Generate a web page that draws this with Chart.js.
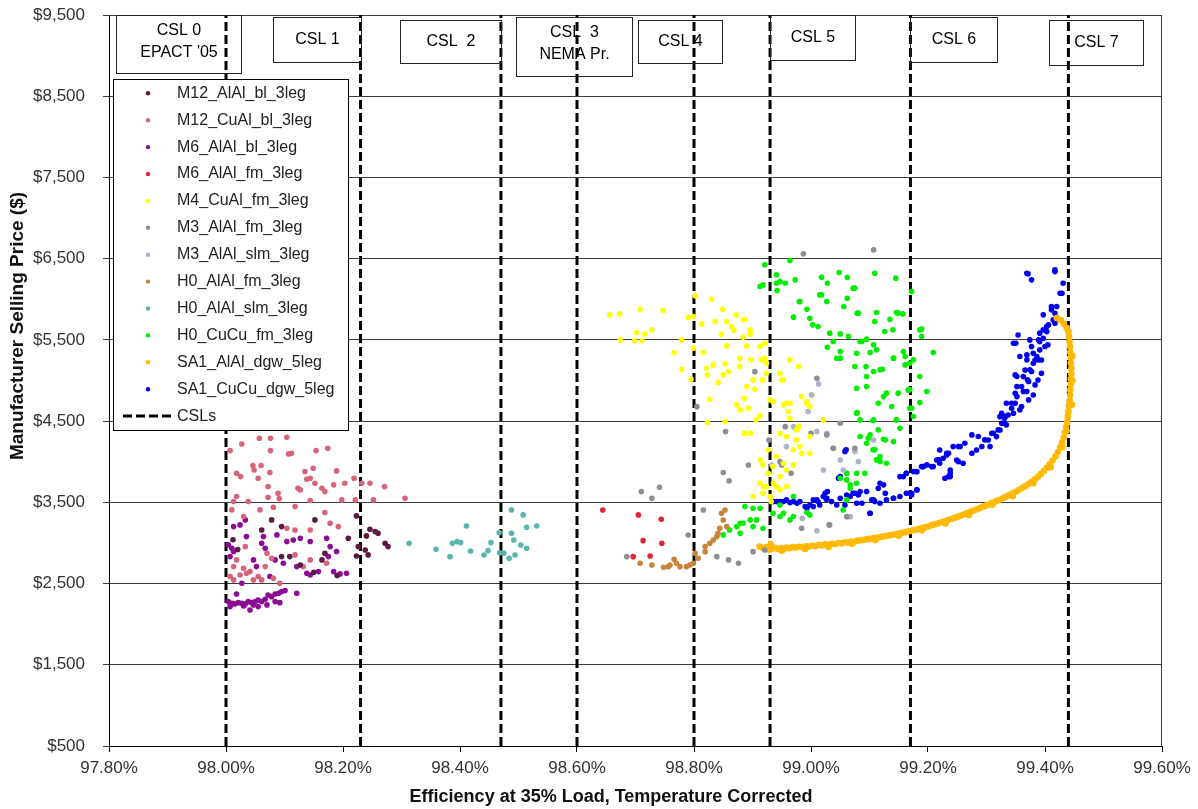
<!DOCTYPE html>
<html>
<head>
<meta charset="utf-8">
<title>Manufacturer Selling Price vs Efficiency</title>
<script src="https://cdn.jsdelivr.net/npm/chart.js@4.4.0/dist/chart.umd.min.js"></script>
<style>
  html, body { margin: 0; padding: 0; background: #fff; }
</style>
</head>
<body>
<canvas id="chart" width="1198" height="809"></canvas>
<script>
// [efficiency %, MSP $]
const m12AlAlBl = [
  [98.246,3169],[98.255,3140],[98.260,3120],[98.272,2996],[98.277,2955],[98.240,3087],[98.226,2955],
  [98.223,2840],[98.243,2853],[98.169,2873],[98.095,2832],[98.127,2729],[98.164,2791],[98.109,2832],
  [98.209,3058],[98.078,3284],[98.095,3201],[98.152,3284],[98.223,3333],[98.061,3160],[98.238,2914],
  [98.012,3040],[98.020,2920],[98.150,2640],[98.190,2600]
];
const m12CuAlBl = [
  [98.007,4137],[98.027,4219],[98.057,4289],[98.076,4289],[98.104,4302],[98.076,4137],[98.107,4096],
  [98.112,4105],[98.154,4137],[98.174,4166],[98.046,3953],[98.060,3953],[98.018,3858],[98.025,3817],
  [98.048,3899],[98.075,3866],[98.055,3797],[98.135,3879],[98.149,3920],[98.189,3887],[98.138,3784],
  [98.144,3797],[98.152,3735],[98.072,3694],[98.123,3673],[98.127,3653],[98.164,3673],[98.169,3632],
  [98.184,3715],[98.203,3735],[98.219,3797],[98.232,3735],[98.246,3735],[98.271,3694],[98.089,3612],
  [98.072,3563],[98.091,3546],[98.018,3571],[98.013,3509],[98.038,3509],[98.144,3522],[98.198,3530],
  [98.221,3530],[98.252,3530],[98.306,3550],[98.010,3407],[98.058,3407],[98.081,3440],[98.118,3448],
  [98.169,3374],[98.192,3201],[98.178,3242],[98.144,3160],[98.104,3181],
  [98.030,3325],[98.033,2955],[98.018,2791],[98.013,2709],[98.030,2688],[98.024,2606],[98.035,2627],
  [98.041,2647],[98.007,2586],[98.013,2545],[98.047,2545],[98.055,2586],[98.067,2709],[98.070,2873],
  [98.078,2812],[98.118,2853],[98.132,2709],[98.144,2791],[98.172,2750],[98.081,2565],[98.092,2504],
  [98.061,2545],[98.118,3160]
];
const m6AlAlBl = [
  [98.004,2278],[98.010,2257],[98.015,2249],[98.021,2265],[98.027,2257],[98.033,2249],[98.038,2278],
  [98.044,2265],[98.050,2278],[98.055,2298],[98.061,2278],[98.067,2306],[98.072,2360],[98.078,2339],
  [98.084,2372],[98.090,2380],[98.095,2401],[98.101,2413],[98.121,2380],[98.055,2216],[98.041,2175],
  [98.018,2372],[98.092,2265],[98.070,2237],[98.030,2224],[98.007,2216],[98.084,2278],[98.047,2237],
  [98.033,3284],[98.013,3201],[98.024,3222],[98.004,2976],[98.010,2935],[98.013,2894],[98.007,2832],
  [98.035,3078],[98.064,3078],[98.061,2996],[98.067,2935],[98.087,3099],[98.104,3017],[98.115,3037],
  [98.127,3058],[98.144,3017],[98.172,3058],[98.178,2955],[98.175,2832],[98.189,2894],[98.027,2504],
  [98.075,2586],[98.138,2627],[98.144,2606],[98.158,2647],[98.184,2647],[98.195,2619],[98.206,2627],
  [98.098,2750],[98.084,2791],[98.047,2791],[98.052,2709],[98.121,2709]
];
const m6AlAlFm = [
  [98.644,3406],[98.705,3345],[98.744,3292],[98.713,3028],[98.745,2996],[98.696,2831],[98.725,2840]
];
const m4CuAlFm = [
  [98.673,5820],[98.708,5878],[98.747,5861],[98.674,5500],[98.702,5590],[98.716,5574],[98.728,5623],
  [98.699,5488],[98.711,5488],[98.779,5500],[98.790,5779],[98.802,6042],[98.830,6001],[98.799,5787],
  [98.813,5697],[98.836,5726],[98.849,5878],[98.856,5726],[98.872,5808],[98.887,5755],[98.864,5664],
  [98.868,5615],[98.847,5570],[98.896,5570],[98.884,5533],[98.921,5459],[98.766,5344],[98.799,5398],
  [98.816,5344],[98.856,5426],[98.890,5426],[98.779,5139],[98.821,5151],[98.833,5192],[98.853,5205],
  [98.878,5274],[98.897,5254],[98.915,5254],[98.921,5274],[98.823,5069],[98.850,5069],[98.859,5110],
  [98.878,5172],[98.901,5008],[98.904,4893],[98.841,4975],[98.890,4926],[98.917,5008],[98.924,5090],
  [98.795,5016],[98.827,4770],[98.886,4778],[98.873,4700],[98.879,4638],[98.893,4659],[98.913,4565],
  [98.930,4761],[98.935,4741],[98.823,4482],[98.853,4494],[98.906,4515],[98.886,4351],[98.897,4351],
  [98.913,4023],[98.918,3961],[98.927,4146],[98.941,4064],[98.927,3858],
  [98.947,5090],[98.964,5254],[98.950,5008],[98.979,5172],[98.953,4700],[98.964,4720],[98.961,4618],
  [98.993,4741],[98.998,4680],[98.979,4433],[98.947,4351],[98.958,4310],[98.975,4269],[98.998,4310],
  [99.021,4515],[98.970,4146],[98.984,4105],[98.998,4105],[98.953,3981],[98.970,3961],[98.935,3940],
  [98.947,3817],[98.941,3694],[98.958,3694],[98.924,3694],[98.913,3735],[98.918,3612],[98.901,3571],
  [98.930,3571],[98.887,4351],[98.884,5747],[98.896,5624],[98.913,5418],[98.924,5213],[98.953,5008],
  [98.958,4720],[98.984,4802],[98.993,4720],[98.964,4536],[98.975,4392],[98.981,4187],[98.958,3899],
  [98.936,3735],[98.947,3653],[98.919,3694],[98.656,5808],[98.932,3510]
];
const m3AlAlFm = [
  [98.710,3632],[98.728,3550],[98.741,3686],[98.805,4678],[98.854,4371],[98.850,3866],[98.860,3764],
  [98.893,3960],[98.904,5109],[98.928,4268],[98.956,4432],[98.950,3960],[99.000,4351],[99.010,5028],
  [99.027,4330],[99.038,4166],[99.050,4474],[99.061,3324],[98.984,3181],[98.966,3858],[99.031,3222],
  [99.075,4166],[98.816,3406],[98.790,3098],[98.839,2831],[98.859,2791],[98.876,2750],[98.901,2893],
  [98.921,2914],[98.685,2831],[98.947,4001],[98.987,6559],[99.107,6608]
];
const m3AlAlSlm = [
  [99.013,4958],[99.001,4823],[98.995,4617],[98.970,4432],[99.010,4371],[99.027,4351],[99.038,4166],
  [99.050,4022],[99.021,3899],[99.075,4125],[99.107,4268],[99.081,4001],[99.032,3222],[99.067,3324],
  [99.055,3899],[98.958,4186],[98.933,3960],[98.985,3300],[99.010,3150]
];
const h0AlAlFm = [
  [98.708,2750],[98.728,2729],[98.756,2708],[98.770,2750],[98.776,2708],[98.793,2729],[98.802,2873],
  [98.819,2955],[98.827,2996],[98.839,3078],[98.844,3181],[98.850,3283],[98.847,3365],[98.853,3406],
  [98.856,3201],[98.807,2811],[98.799,2750],[98.759,2729],[98.748,2700],[98.787,2708],[98.819,2893],
  [98.833,3037],[98.841,3119],[98.766,2798]
];
const h0AlAlSlm = [
  [98.313,2996],[98.359,2922],[98.383,2831],[98.387,2996],[98.395,3016],[98.401,3004],[98.411,3209],
  [98.418,2901],[98.441,2852],[98.448,2905],[98.453,3004],[98.467,3127],[98.468,2880],[98.475,2873],
  [98.484,2811],[98.488,3119],[98.492,3037],[98.488,3406],[98.508,3345],[98.514,3193],[98.531,3209],
  [98.504,2975],[98.514,2935],[98.494,2852]
];
const h0CuCuFm = [
  [98.921,6424],[98.964,6477],[98.913,6157],[98.941,6301],[98.947,6219],[98.956,6198],[98.973,6239],
  [98.942,6108],[99.018,6272],[99.028,6198],[99.048,6330],[99.062,6272],[99.075,6137],[99.109,6321],
  [99.145,6260],[98.980,5972],[98.993,5878],[99.018,6054],[99.027,5972],[98.970,5780],[98.998,5767],
  [99.003,5685],[99.012,5664],[99.062,6013],[99.056,5911],[99.079,5829],[99.112,5837],[99.135,5755],
  [99.146,5837],[99.157,5820],[99.172,6096],[99.109,5726],[99.126,5603],[99.140,5624],[99.032,5583],
  [99.050,5574],[99.064,5541],[99.038,5480],[99.087,5480],[99.095,5509],[99.028,5410],[99.050,5357],
  [99.078,5336],[99.101,5344],[99.112,5377],[99.141,5275],[99.161,5295],[99.175,5254],[99.189,5632],
  [99.189,5541],[99.209,5344],[99.075,5172],[99.094,5172],[99.107,5110],[99.122,5139],[99.161,5192],
  [99.169,5213],[99.050,5275],[99.078,4905],[99.095,4926],[99.129,4844],[99.149,4844],[99.169,4885],
  [99.186,4729],[99.186,5049],[99.115,4720],[99.079,4605],[99.084,4515],[99.106,4507],[99.146,4515],
  [99.169,4659],[99.175,4556],[99.084,4310],[99.098,4289],[99.124,4277],[99.141,4248],[99.152,4412],
  [99.106,4146],[99.112,4023],[99.118,4064],[99.129,3982],[99.095,4228],[99.061,3858],[99.050,3797],
  [99.078,3858],[99.092,3858],[99.067,3715],[99.078,3735],[98.887,3448],[98.901,3427],[98.947,3468],
  [98.953,3366],[98.970,3325],[98.993,3374],[98.879,3243],[98.907,3284],
  [98.918,6177],[98.941,6198],[98.981,5972],[99.015,6054],[99.072,6136],[99.081,5829],[99.149,5829],
  [99.186,5623],[99.141,5274],[99.158,5356],[99.084,5480],[99.107,5439],[99.044,5274],[99.095,5049],
  [99.118,5131],[99.166,4884],[99.198,4864],[99.124,4802],[99.138,4679],[99.172,4659],[99.146,4515],
  [99.107,4515],[99.078,4597],[99.101,4330],[99.115,4392],[99.127,4269],[99.109,4146],[99.118,4002],
  [99.061,3858],[99.061,3776],[98.970,3571],[98.935,3366],[98.913,3427],[98.896,3284],[98.884,3243],
  [98.873,3201],[98.861,3160],[98.850,3099],[98.901,3201],[98.947,3325],[98.964,3284],[98.998,3345],
  [98.879,3119],[98.918,3181],[99.061,3530],[99.055,3407],[99.067,3673]
];
const sa1AlAlDgw = [
  [98.912,2955],[98.918,2938],[98.924,2950],[98.928,2915],[98.931,2985],[98.933,2928],[98.938,2940],
  [98.943,2925],[98.949,2936],[98.954,2930],[98.958,2942],[98.963,2935],[98.969,2948],[98.974,2940],
  [98.979,2953],[98.985,2948],[98.991,2960],[98.996,2955],[99.002,2966],[99.008,2962],[99.013,2974],
  [99.019,2970],[99.024,2983],[99.030,2978],[99.036,2990],[99.041,2986],[99.047,2999],[99.052,2995],
  [99.058,3009],[99.063,3005],[99.069,3018],[99.074,3014],[99.080,3028],[99.086,3034],[99.091,3040],
  [99.097,3047],[99.102,3052],[99.108,3060],[99.113,3066],[99.119,3074],[99.124,3080],[99.130,3089],
  [99.135,3095],[99.141,3104],[99.146,3110],[99.152,3119],[99.157,3127],[99.163,3136],[99.168,3144],
  [99.174,3155],[99.179,3163],[99.185,3175],[99.190,3184],[99.196,3197],[99.201,3206],[99.207,3219],
  [99.212,3230],[99.218,3243],[99.223,3254],[99.229,3268],[99.234,3281],[99.240,3295],[99.245,3308],
  [99.251,3324],[99.256,3338],[99.262,3354],[99.267,3368],[99.273,3385],[99.278,3399],[99.284,3416],
  [99.289,3432],[99.295,3449],[99.300,3463],[99.306,3481],[99.311,3497],[99.317,3515],[99.322,3532],
  [99.328,3551],[99.333,3568],[99.339,3589],[99.344,3608],[99.350,3630],[99.355,3651],[99.361,3676],
  [99.366,3698],[99.372,3726],[99.377,3752],[99.383,3784],[99.388,3815],[99.393,3850],[99.398,3886],
  [99.403,3926],[99.408,3968],[99.413,4015],[99.418,4066],[99.422,4120],[99.426,4178],[99.429,4236],
  [99.432,4298],[99.434,4362],[99.436,4426],[99.438,4490],[99.439,4556],[99.440,4622],[99.441,4688],
  [99.442,4754],[99.443,4820],[99.443,4886],[99.444,4952],[99.444,5018],[99.445,5084],[99.445,5150],
  [99.444,5216],[99.444,5282],[99.443,5348],[99.443,5414],[99.442,5480],[99.441,5546],[99.440,5602],
  [99.437,5650],[99.432,5700],[99.427,5745],[99.420,5770],
  [98.950,2905],[98.990,2925],[99.030,2950],[99.070,2990],[99.110,3035],[99.150,3090],[99.190,3155],
  [99.230,3240],[99.270,3345],[99.310,3470],[99.345,3575],[99.380,3735],[99.410,3930],[99.430,4180],
  [99.437,4380],[99.446,4700],[99.447,5000],[99.447,5300]
];
const sa1CuCuDgw = [
  [98.933,3509],[98.941,3509],[98.953,3509],[98.964,3497],[98.976,3489],[98.990,3448],[98.998,3468],
  [99.004,3530],[99.012,3509],[99.021,3571],[99.028,3633],[99.026,3538],[99.035,3509],[99.044,3468],
  [99.050,3550],[99.058,3468],[99.067,3571],[99.075,3612],[99.081,3591],[99.087,3489],[99.095,3633],
  [99.101,3366],[99.104,3530],[99.109,3509],[99.115,3674],[99.124,3715],[99.118,3489],[99.129,3530],
  [99.141,3550],[99.152,3571],[99.163,3612],[99.172,3591],[99.060,4146],[99.050,3817],[99.152,3817],
  [99.163,3858],[99.175,3879],[99.189,3940],[99.198,3961],[99.206,3940],[99.218,4023],[99.226,4043],
  [99.232,4084],[99.220,3982],[99.238,3899],[99.235,3817],[99.252,4187],[99.263,4228],[99.275,4105],
  [99.286,4310],[99.297,4269],[99.306,4187],[99.312,4351],[99.320,4392],[99.326,4474],[99.334,4454],
  [99.332,4556],[99.343,4720],[99.352,4802],[99.352,4926],[99.352,5049],[99.363,4864],[99.360,4679],
  [99.370,5008],[99.374,5131],[99.380,5213],[99.383,4946],[99.391,5377],[99.394,5090],[99.389,5500],
  [99.397,5624],[99.403,5665],[99.411,5870],[99.417,5706],[99.420,5911],[99.426,6075],[99.431,6198],
  [99.369,6321],[99.377,6239],[99.417,6362],[99.346,5459],[99.357,5295],[99.369,5254],[99.380,5336],
  [99.389,5254],[99.374,5500],[99.391,5583],[99.405,5439],
  [99.163,3858],[99.181,3878],[99.172,3612],[99.181,3653],[99.192,3940],[99.215,4022],[99.235,4104],
  [99.229,3796],[99.238,3858],[99.252,4001],[99.260,3981],[99.255,4186],[99.283,4145],[99.292,4186],
  [99.309,4350],[99.317,4309],[99.323,4391],[99.329,4474],[99.326,4597],[99.334,4720],[99.346,4597],
  [99.343,4658],[99.349,4843],[99.357,4638],[99.360,4925],[99.372,4761],[99.369,4864],[99.363,5048],
  [99.349,5069],[99.372,4987],[99.380,4822],[99.366,5130],[99.377,5110],[99.383,5253],[99.369,5315],
  [99.386,5295],[99.394,5253],[99.377,5418],[99.391,5479],[99.397,5520],[99.403,5602],[99.400,5418],
  [99.350,5459],[99.354,5561],[99.406,5685],[99.414,5746],[99.417,5828],[99.411,5910],[99.429,6074],
  [99.417,6341],[99.371,6313],[99.397,5808],[99.388,5007],[99.323,4555],[99.303,4268],[99.275,4330],
  [99.220,4145],[99.249,4022],[99.331,4535],[99.337,4576],[99.349,4720],
  [98.936,3509],[98.947,3509],[98.958,3530],[98.970,3509],[98.981,3509],[98.993,3427],[99.004,3448],
  [99.010,3530],[99.015,3468],[99.024,3612],[99.027,3550],[99.047,3797],[99.058,4125],[99.061,3591],
  [99.072,3612],[99.078,3489],[99.084,3632],[99.101,3366],[99.107,3530],[99.118,3735],[99.127,3612],
  [99.141,3550],[99.158,3817],[99.169,3612],[99.181,3653],[99.192,3940],[99.209,3940],[99.220,4022],
  [99.232,4104],[99.243,4186],[99.238,3817]
];

const seriesNames = [
  "M12_AlAl_bl_3leg", "M12_CuAl_bl_3leg", "M6_AlAl_bl_3leg", "M6_AlAl_fm_3leg",
  "M4_CuAl_fm_3leg", "M3_AlAl_fm_3leg", "M3_AlAl_slm_3leg", "H0_AlAl_fm_3leg",
  "H0_AlAl_slm_3leg", "H0_CuCu_fm_3leg", "SA1_AlAl_dgw_5leg", "SA1_CuCu_dgw_5leg"
];
const seriesValues = [
  m12AlAlBl, m12CuAlBl, m6AlAlBl, m6AlAlFm, m4CuAlFm, m3AlAlFm,
  m3AlAlSlm, h0AlAlFm, h0AlAlSlm, h0CuCuFm, sa1AlAlDgw, sa1CuCuDgw
];
const seriesColors = [
  "#5c1a42", "#d6657c", "#8c0c94", "#e0243c", "#ffff00", "#8e8e8e",
  "#aab2cc", "#c8853a", "#5ab5ad", "#00ee00", "#ffb900", "#0000ee"
];

// candidate standard levels (efficiency %) and their labels
const cslValues = [98.00, 98.23, 98.47, 98.60, 98.80, 98.93, 99.17, 99.44];
const cslLabels = [
  ["CSL 0", "EPACT '05"], ["CSL 1"], ["CSL  2"], ["CSL  3", "NEMA Pr."],
  ["CSL 4"], ["CSL 5"], ["CSL 6"], ["CSL 7"]
];

const xMin = 97.8, xMax = 99.6, xStep = 0.2;
const yMin = 500, yMax = 9500, yStep = 1000;

const FONT = "'Liberation Sans', Arial, sans-serif";

// box placement around each CSL line: [offset from line, width, top, height]
const boxLayout = [
  [-110, 125, 15, 58], [-88, 88, 17, 45], [-101, 101, 20, 43], [-61, 116, 17, 59],
  [-56, 84, 20, 43], [0, 85, 15, 45], [0, 87, 17, 45], [-19, 94, 20, 45]
];

const datasets = seriesNames.map((name, i) => ({
  label: name,
  data: seriesValues[i].map(p => ({ x: p[0], y: p[1] })),
  backgroundColor: seriesColors[i],
  borderWidth: 0,
  pointRadius: i === 10 ? 3.3 : 2.8,
  pointHoverRadius: 2.8
}));

const cslPoints = [];
cslValues.forEach(v => {
  cslPoints.push({ x: v, y: yMin }, { x: v, y: yMax }, { x: v, y: null });
});
datasets.push({
  type: "line",
  label: "CSLs",
  data: cslPoints,
  borderColor: "#000",
  borderWidth: 3,
  borderDash: [9, 4],
  pointRadius: 0,
  showLine: true,
  spanGaps: false,
  fill: false
});

const framePlugin = {
  id: "frame",
  beforeDatasetsDraw(chart) {
    const { ctx, chartArea: a } = chart;
    ctx.save();
    ctx.strokeStyle = "#3c3c3c";
    ctx.lineWidth = 1;
    ctx.beginPath();
    ctx.moveTo(a.left, a.top + 0.5);
    ctx.lineTo(a.right - 0.5, a.top + 0.5);
    ctx.lineTo(a.right - 0.5, a.bottom);
    ctx.stroke();
    ctx.restore();
  }
};

const cslBoxPlugin = {
  id: "cslBoxes",
  afterDatasetsDraw(chart) {
    const { ctx } = chart;
    const xs = chart.scales.x;
    ctx.save();
    ctx.strokeStyle = "#222";
    ctx.lineWidth = 1;
    ctx.fillStyle = "#000";
    ctx.font = "16px " + FONT;
    ctx.textAlign = "center";
    ctx.textBaseline = "middle";
    cslValues.forEach((v, i) => {
      const [off, w, top, h] = boxLayout[i];
      const left = Math.round(xs.getPixelForValue(v) + off) + 0.5;
      ctx.strokeRect(left, top + 0.5, w, h);
      const lines = cslLabels[i];
      const cx = left + w / 2;
      if (lines.length === 1) {
        ctx.fillText(lines[0], cx, top + h / 2);
      } else {
        ctx.fillText(lines[0], cx, top + 16);
        ctx.fillText(lines[1], cx, top + 38);
      }
    });
    ctx.restore();
  }
};

const legendPlugin = {
  id: "legendBox",
  afterDraw(chart) {
    const { ctx } = chart;
    const x0 = 113.5, y0 = 79.5, w = 235, h = 351;
    ctx.save();
    ctx.fillStyle = "#fff";
    ctx.fillRect(x0, y0, w, h);
    ctx.strokeStyle = "#000";
    ctx.lineWidth = 1;
    ctx.strokeRect(x0, y0, w, h);
    ctx.font = "16px " + FONT;
    ctx.textBaseline = "middle";
    ctx.textAlign = "left";
    const rowH = 26.9;
    seriesNames.forEach((name, i) => {
      const y = 93.3 + i * rowH;
      ctx.fillStyle = seriesColors[i];
      ctx.beginPath();
      ctx.arc(148, y, 2.2, 0, Math.PI * 2);
      ctx.fill();
      ctx.fillStyle = "#222";
      ctx.fillText(name, 177, y);
    });
    const yc = 93.3 + seriesNames.length * rowH;
    ctx.strokeStyle = "#000";
    ctx.lineWidth = 3;
    ctx.setLineDash([9, 4]);
    ctx.beginPath();
    ctx.moveTo(123, yc);
    ctx.lineTo(172, yc);
    ctx.stroke();
    ctx.setLineDash([]);
    ctx.fillStyle = "#222";
    ctx.fillText("CSLs", 177, yc);
    ctx.restore();
  }
};

const titlePlugin = {
  id: "axisTitles",
  afterDraw(chart) {
    const { ctx } = chart;
    ctx.save();
    ctx.fillStyle = "#111";
    ctx.textAlign = "center";
    ctx.textBaseline = "middle";
    ctx.font = "bold 18px " + FONT;
    ctx.fillText("Efficiency at 35% Load, Temperature Corrected", 611, 797);
    ctx.translate(18, 326);
    ctx.rotate(-Math.PI / 2);
    ctx.font = "bold 19px " + FONT;
    ctx.fillText("Manufacturer Selling Price ($)", 0, 0);
    ctx.restore();
  }
};

new Chart(document.getElementById("chart").getContext("2d"), {
  type: "scatter",
  data: { datasets },
  options: {
    responsive: false,
    animation: false,
    events: [],
    layout: { padding: { left: 0, right: 36, top: 15, bottom: 0 } },
    plugins: { legend: { display: false }, tooltip: { enabled: false } },
    scales: {
      x: {
        type: "linear",
        min: xMin,
        max: xMax,
        afterFit: s => { s.height = 63; s.paddingLeft = 0; s.paddingRight = 0; },
        ticks: {
          stepSize: xStep,
          maxRotation: 0,
          autoSkip: false,
          padding: 6,
          color: "#333",
          font: { family: FONT, size: 17 },
          callback: v => v.toFixed(2) + "%"
        },
        grid: { drawOnChartArea: false, tickLength: 6, color: "#000" },
        border: { color: "#000", width: 1 }
      },
      y: {
        min: yMin,
        max: yMax,
        afterFit: s => { s.width = 109; s.paddingTop = 0; s.paddingBottom = 0; },
        ticks: {
          stepSize: yStep,
          padding: 18,
          color: "#333",
          font: { family: FONT, size: 17 },
          callback: v => "$" + v.toLocaleString("en-US")
        },
        grid: { color: "#3c3c3c", lineWidth: 1, tickLength: 6 },
        border: { color: "#000", width: 1 }
      }
    }
  },
  plugins: [framePlugin, cslBoxPlugin, legendPlugin, titlePlugin]
});
</script>
</body>
</html>
